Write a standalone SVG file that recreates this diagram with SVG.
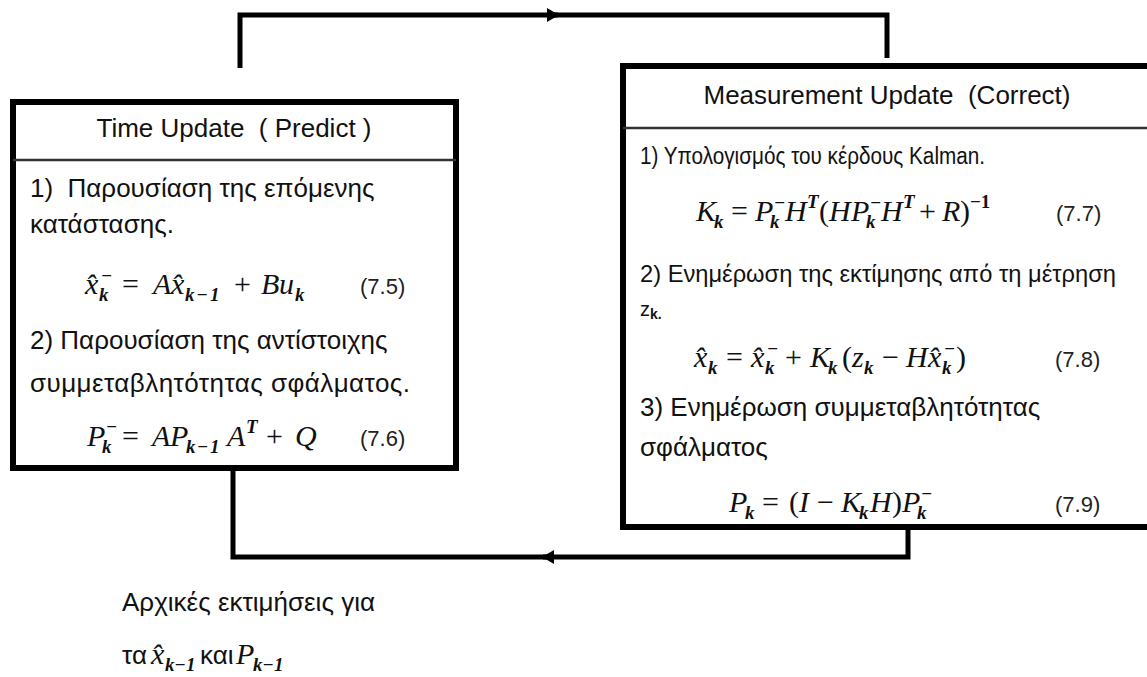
<svg xmlns="http://www.w3.org/2000/svg" width="1147" height="677" viewBox="0 0 1147 677">
<style>
.t{font-family:"Liberation Sans",Arial,sans-serif;font-size:26px;fill:#111}
.h{text-anchor:middle}
.m{font-family:"Liberation Serif","Times New Roman",serif;font-style:italic;font-size:30px;fill:#111}
.u{font-style:normal}
.s{font-size:19px;font-weight:bold}
.n{font-family:"Liberation Sans",Arial,sans-serif;font-size:22px;fill:#222}
.box{fill:#fff;stroke:#000;stroke-width:6}
.div{stroke:#333;stroke-width:2.5}
.con{fill:none;stroke:#000;stroke-width:5}
</style>
<defs>
<marker id="ah" viewBox="0 0 12 14" refX="11" refY="7" markerWidth="12" markerHeight="14" markerUnits="userSpaceOnUse" orient="auto">
<path d="M0,0 L12,7 L0,14 z" fill="#000"/>
</marker>
</defs>
<rect width="1147" height="677" fill="#fff"/>

<g id="connectors">
<path class="con" d="M240,68 V15 H558" marker-end="url(#ah)"/>
<path class="con" d="M550,15 H887 V58"/>
<path class="con" d="M908,527 V557 H543" marker-end="url(#ah)"/>
<path class="con" d="M552,557 H233 V468"/>
</g>

<g id="time-update">
<rect class="box" x="13" y="102" width="443" height="366"/>
<line class="div" x1="13" y1="160" x2="456" y2="160"/>
<text class="t h" x="234" y="137" xml:space="preserve">Time Update  ( Predict )</text>
<text class="t" x="30" y="197" xml:space="preserve">1)  Παρουσίαση της επόμενης</text>
<text class="t" x="30" y="233">κατάστασης.</text>
<text class="m"><tspan x="85" y="294">x̂</tspan><tspan class="s" x="99" y="301">k</tspan><tspan class="s" x="101" y="282">−</tspan><tspan class="u" x="122" y="294">=</tspan><tspan x="153" y="294">A</tspan><tspan x="171" y="294">x̂</tspan><tspan class="s" x="185" y="301" letter-spacing="2">k−1</tspan><tspan class="u" x="234" y="294">+</tspan><tspan x="261" y="294">B</tspan><tspan x="279" y="294">u</tspan><tspan class="s" x="295" y="301">k</tspan></text>
<text class="n" x="360" y="294">(7.5)</text>
<text class="t" x="30" y="349">2) Παρουσίαση της αντίστοιχης</text>
<text class="t" x="30" y="392" textLength="380">συμμεταβλητότητας σφάλματος.</text>
<text class="m"><tspan x="87" y="446">P</tspan><tspan class="s" x="102" y="453">k</tspan><tspan class="s" x="106" y="433">−</tspan><tspan class="u" x="122" y="446">=</tspan><tspan x="152" y="446">A</tspan><tspan x="170" y="446">P</tspan><tspan class="s" x="186" y="453" letter-spacing="1.5">k−1</tspan><tspan x="227" y="446">A</tspan><tspan class="s" x="246" y="433">T</tspan><tspan class="u" x="266" y="446">+</tspan><tspan x="295" y="446">Q</tspan></text>
<text class="n" x="360" y="446">(7.6)</text>
</g>

<g id="measurement-update">
<rect class="box" x="623" y="66" width="540" height="461"/>
<line class="div" x1="623" y1="128" x2="1147" y2="128"/>
<text class="t h" x="887" y="104" xml:space="preserve">Measurement Update  (Correct)</text>
<text class="t" x="640" y="164" style="font-size:23.5px" textLength="345" lengthAdjust="spacingAndGlyphs">1) Υπολογισμός του κέρδους Kalman.</text>
<text class="m"><tspan x="696" y="221">K</tspan><tspan class="s" x="714" y="228">k</tspan><tspan class="u" x="731" y="221">=</tspan><tspan x="755" y="221">P</tspan><tspan class="s" x="770" y="228">k</tspan><tspan class="s" x="774" y="209">−</tspan><tspan x="785" y="221">H</tspan><tspan class="s" x="807" y="208">T</tspan><tspan class="u" x="819" y="221">(</tspan><tspan x="829" y="221">H</tspan><tspan x="851" y="221">P</tspan><tspan class="s" x="866" y="228">k</tspan><tspan class="s" x="870" y="209">−</tspan><tspan x="881" y="221">H</tspan><tspan class="s" x="903" y="208">T</tspan><tspan class="u" x="919" y="221">+</tspan><tspan x="942" y="221">R</tspan><tspan class="u" x="960" y="221">)</tspan><tspan class="s u" x="970" y="208">−1</tspan></text>
<text class="n" x="1056" y="221">(7.7)</text>
<text class="t" x="640" y="282" style="font-size:24px" textLength="476" lengthAdjust="spacingAndGlyphs">2) Ενημέρωση της εκτίμησης από τη μέτρηση</text>
<text class="t" x="640" y="316" style="font-size:20px">z<tspan style="font-size:14px;font-weight:bold" dy="3">k.</tspan></text>
<text class="m"><tspan x="694" y="367">x̂</tspan><tspan class="s" x="708" y="374">k</tspan><tspan class="u" x="726" y="367">=</tspan><tspan x="751" y="367">x̂</tspan><tspan class="s" x="765" y="374">k</tspan><tspan class="s" x="767" y="355">−</tspan><tspan class="u" x="785" y="367">+</tspan><tspan x="810" y="367">K</tspan><tspan class="s" x="828" y="374">k</tspan><tspan class="u" x="842" y="367">(</tspan><tspan x="852" y="367">z</tspan><tspan class="s" x="864" y="374">k</tspan><tspan class="u" x="882" y="367">−</tspan><tspan x="906" y="367">H</tspan><tspan x="928" y="367">x̂</tspan><tspan class="s" x="942" y="374">k</tspan><tspan class="s" x="944" y="355">−</tspan><tspan class="u" x="956" y="367">)</tspan></text>
<text class="n" x="1055" y="367">(7.8)</text>
<text class="t" x="640" y="416">3) Ενημέρωση συμμεταβλητότητας</text>
<text class="t" x="640" y="456">σφάλματος</text>
<text class="m"><tspan x="729" y="512">P</tspan><tspan class="s" x="745" y="519">k</tspan><tspan class="u" x="762" y="512">=</tspan><tspan class="u" x="789" y="512">(</tspan><tspan x="799" y="512">I</tspan><tspan class="u" x="817" y="512">−</tspan><tspan x="841" y="512">K</tspan><tspan class="s" x="859" y="519">k</tspan><tspan x="870" y="512">H</tspan><tspan class="u" x="892" y="512">)</tspan><tspan x="902" y="512">P</tspan><tspan class="s" x="917" y="519">k</tspan><tspan class="s" x="921" y="500">−</tspan></text>
<text class="n" x="1055" y="512">(7.9)</text>
</g>

<g id="initial-estimates">
<text class="t" x="122" y="611">Αρχικές εκτιμήσεις για</text>
<text class="t" x="122" y="664">τα</text>
<text class="m"><tspan x="151" y="664">x̂</tspan><tspan class="s" x="165" y="671">k−1</tspan></text>
<text class="t" x="200" y="664">και</text>
<text class="m"><tspan x="236" y="664">P</tspan><tspan class="s" x="253" y="671">k−1</tspan></text>
</g>
</svg>
